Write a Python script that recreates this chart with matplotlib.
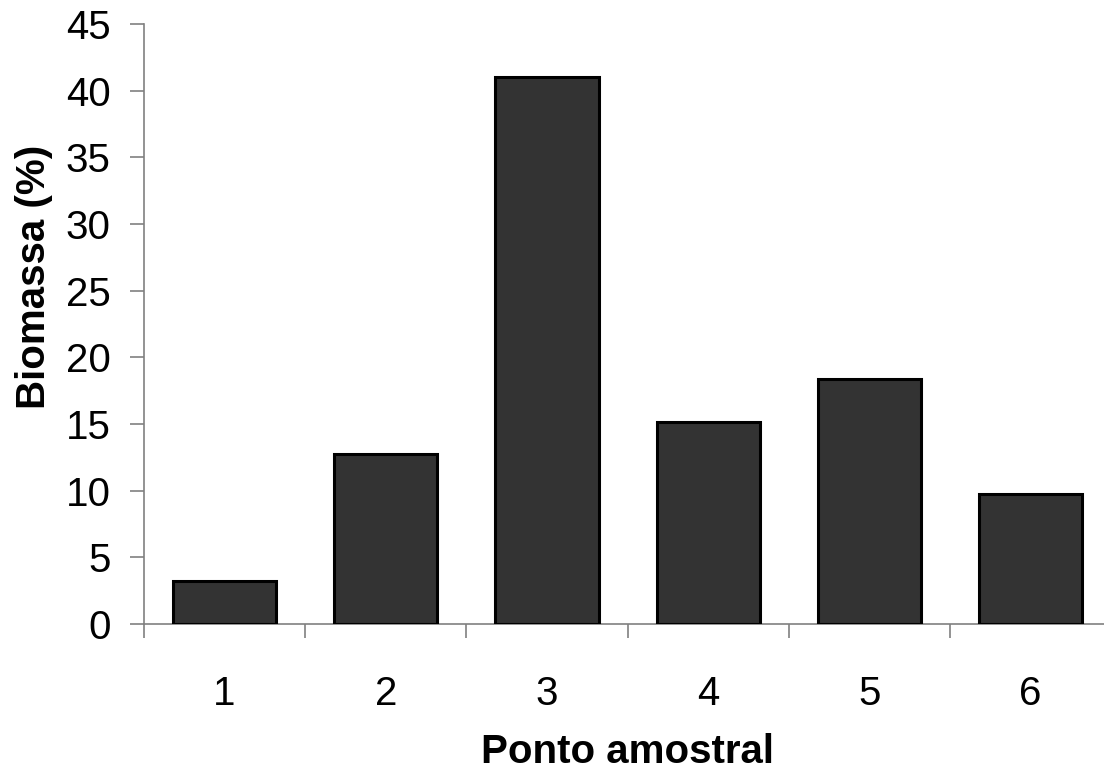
import matplotlib.pyplot as plt
import numpy as np

plt.rcParams['font.family'] = ['Liberation Sans', 'DejaVu Sans']

# data
pontos = ["1", "2", "3", "4", "5", "6"]
biomassa = [3.2, 12.75, 41.0, 15.15, 18.4, 9.75]

fig = plt.figure(figsize=(11.04, 7.72), dpi=100)
ax = fig.add_axes([0.1304, 0.1917, 0.876, 0.7772])

x = np.arange(1, len(pontos) + 1)
ax.bar(x, biomassa, width=0.64, color="#333333", edgecolor="black", linewidth=2.2, zorder=3)

ax.set_xlim(0.5, len(pontos) + 0.5)
ax.set_ylim(0, 45)
ax.set_yticks(np.arange(0, 46, 5))

ax.set_xticks(x)
ax.set_xticklabels(pontos)
ax.set_xticks(np.arange(0.5, len(pontos) + 1, 1), minor=True)

for s in ["top", "right"]:
    ax.spines[s].set_visible(False)
for s in ["left", "bottom"]:
    ax.spines[s].set_color("#808080")
    ax.spines[s].set_linewidth(1.2)

ax.tick_params(axis="y", direction="out", length=10, width=1.2, color="#808080",
               labelsize=29, pad=14)
ax.tick_params(axis="x", which="major", length=0, labelsize=29, pad=37)
ax.tick_params(axis="x", which="minor", direction="out", length=10, width=1.2,
               color="#808080")

ax.set_xlabel("Ponto amostral", fontsize=29, fontweight="bold", labelpad=14)
ax.set_ylabel("Biomassa (%)", fontsize=29, fontweight="bold", va="center")
# label sits a bit above the axis middle in the original
ax.yaxis.set_label_coords(-0.114, 0.578)

plt.savefig("out.png", dpi=100)
plt.close()
